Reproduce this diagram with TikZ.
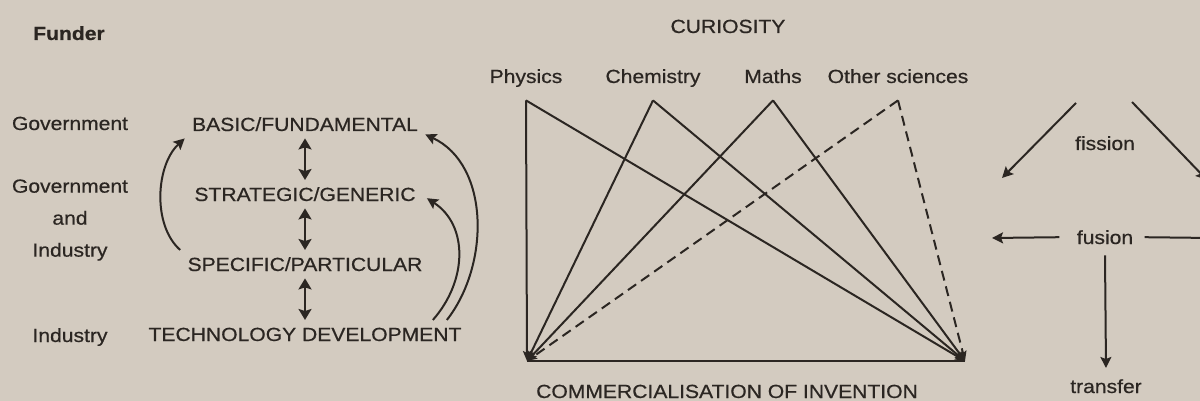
\documentclass[tikz,border=0pt]{standalone}
\usepackage{fontspec}
\setmainfont{Liberation Sans}[FakeStretch=1.11, FakeBold=0.6]
\usetikzlibrary{positioning,arrows.meta}
\usepackage{xcolor}
\definecolor{paper}{HTML}{D3CBC0}
\definecolor{ink}{HTML}{2B2622}

\begin{document}
\begin{tikzpicture}[
      x=0.5pt, y=-0.5pt,
      node distance=35pt,
      every node/.style={font=\fontsize{9.5}{16}\selectfont, text=ink},
      lbl/.style={anchor=base, inner sep=3.5pt, text height=6.8pt, text depth=0pt},
      stage/.style={lbl, on grid},
      arrow/.style={-{Stealth[length=5.5pt,width=5.5pt,inset=1pt]}, line width=1pt, draw=ink},
      dblarrow/.style={arrow, {Stealth[length=5.5pt,width=6.5pt,inset=1pt]}-{Stealth[length=5.5pt,width=6.5pt,inset=1pt]}},
      link/.style={arrow, -{Stealth[length=5pt,width=4pt,inset=1pt]}},
      dashlink/.style={link, dash pattern=on 5pt off 3pt}
    ]
      \fill[paper] (0,0) rectangle (1200,401);
      \clip (0,0) rectangle (1200,401);

      % funders
      \node[lbl] (funder) at (69,40) {\bfseries Funder};
      \node[lbl] (gov) at (70,130) {Government};
      \node[anchor=north, inner sep=0pt, align=center] (govind) at (70,179) {Government\\and\\Industry};
      \node[lbl] (ind) at (70,342) {Industry};

      % research types
      \node[lbl] (basic) at (305,131) {BASIC/FUNDAMENTAL};
      \node[stage, below=of basic] (strat) {STRATEGIC/GENERIC};
      \node[stage, below=of strat] (spec) {SPECIFIC/PARTICULAR};
      \node[stage, below=of spec] (tech) {TECHNOLOGY DEVELOPMENT};
      \draw[dblarrow] (basic) -- (strat);
      \draw[dblarrow] (strat) -- (spec);
      \draw[dblarrow] (spec) -- (tech);
      \draw[arrow] (spec.north west) .. controls (152,225) and (156,165) .. (basic.south west);
      \draw[arrow] ([xshift=-18pt]tech.north east) .. controls (468,280) and (468,225) .. ([xshift=2pt,yshift=-2pt]strat.east);
      \draw[arrow] ([xshift=-11pt]tech.north east) .. controls (490,265) and (490,165) .. ([yshift=2pt]basic.south east);

      % sciences
      \node[lbl] (curio) at (728,33) {CURIOSITY};
      \node[lbl] (phys) at (526,83) {Physics};
      \node[lbl] (chem) at (653,83) {Chemistry};
      \node[lbl] (maths) at (773,83) {Maths};
      \node[lbl] (other) at (898,83) {Other sciences};
      \node[lbl] (comm) at (727,398) {COMMERCIALISATION OF INVENTION};
      \coordinate (physTop) at ([yshift=-5pt]phys.south);
      \coordinate (chemTop) at ([yshift=-5pt]chem.south);
      \coordinate (mathsTop) at ([yshift=-5pt]maths.south);
      \coordinate (otherTop) at ([yshift=-5pt]other.south);
      \coordinate (bl) at (527,361);
      \coordinate (br) at (965,361);
      \foreach \s in {physTop,chemTop,mathsTop} {
        \draw[link] (\s) -- (bl);
        \draw[link] (\s) -- (br);
      }
      \draw[dashlink] (otherTop) -- (bl);
      \draw[dashlink] (otherTop) -- (br);
      \draw[line width=1pt, draw=ink] (bl) -- (br);

      % fission / fusion / transfer
      \node[lbl] (fission) at (1105,150) {fission};
      \node[lbl] (fusion) at (1105,244) {fusion};
      \node[lbl] (transfer) at (1106,393) {transfer};
      \coordinate (fisA) at (1076,103);
      \coordinate (fisL) at (1002,178);
      \coordinate (fisB) at (1132,102);
      \coordinate (fisR) at (1207,180);
      \coordinate (fusL) at (992,238);
      \coordinate (fusR) at (1212,238);
      \draw[arrow] (fisA) -- (fisL);
      \draw[arrow] (fisB) -- (fisR);
      \draw[arrow] ([xshift=-5pt]fusion.west) -- (fusL);
      \draw[arrow] ([xshift=2pt]fusion.east) -- (fusR);
      \draw[arrow] ([yshift=-2pt]fusion.south) -- ([yshift=2pt]transfer.north);
    \end{tikzpicture}
\end{document}
